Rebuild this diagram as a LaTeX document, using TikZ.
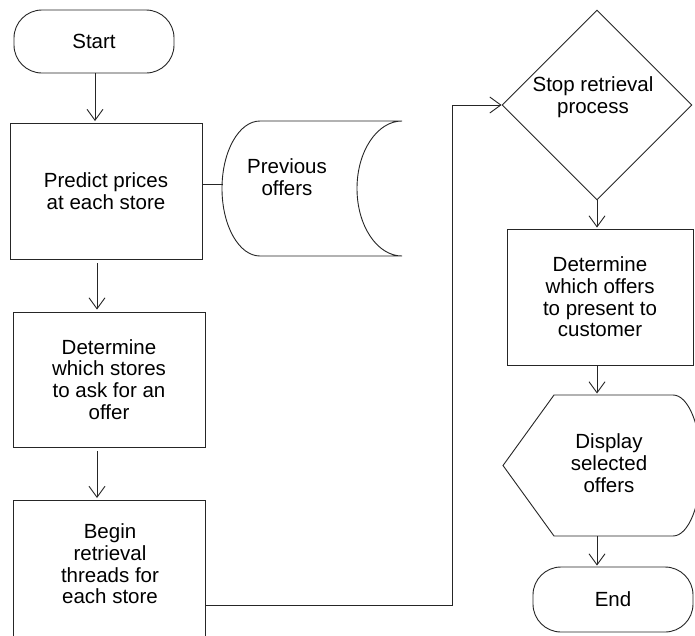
\documentclass[tikz,border=0pt]{standalone}
\usepackage{fontspec}
\setmainfont{Liberation Sans}
\usetikzlibrary{arrows.meta,shapes.geometric}
\begin{document}
\begin{tikzpicture}[x=1pt,y=-1pt,
  ln/.style={draw=black!85, line width=0.9pt},
  arr/.style={ln, -{Straight Barb[length=11pt,width=16pt]}},
  txt/.style={font=\fontsize{20.5}{21.7}\selectfont, align=center, inner sep=0pt},
  procbox/.style={ln, rectangle, inner sep=0pt, txt},
  term/.style={ln, rectangle, rounded corners=28pt, inner sep=0pt, txt, minimum width=160pt},
]
\fill[white] (0,0) rectangle (695,635);
\useasboundingbox (0,0) rectangle (695,635);

% column coordinates
\coordinate (colS) at (95,0);
\coordinate (colA) at (97,0);
\coordinate (colR) at (597,0);

% left column
\node[term, minimum height=63pt] (start) at (94,41.5) {Start};
\node[procbox, minimum width=192pt, minimum height=136pt] (b1) at (106,191) {Predict prices\\at each store};
\node[procbox, minimum width=192pt, minimum height=135pt] (b2) at (109,379.5) {Determine\\which stores\\to ask for an\\offer};
\node[ln, rectangle, inner sep=0pt, minimum width=192pt, minimum height=200pt, anchor=north west] (b3box) at (13,500) {};
\node[txt] (b3) at (110,564) {Begin\\retrieval\\threads for\\each store};

% stored data (previous offers)
\draw[ln] (260,121) -- (402,121)
  .. controls (377.2,121) and (357,151.2) .. (357,188.5)
  .. controls (357,225.8) and (377.2,256) .. (402,256)
  -- (260,256)
  .. controls (239,256) and (222,225.8) .. (222,188.5)
  .. controls (222,151.2) and (239,121) .. cycle;
\node[txt] (prev) at (287,177.5) {Previous\\offers};
\coordinate (prevL) at (223,184);

% right column
\node[ln, diamond, aspect=1, minimum width=190pt, minimum height=190pt, inner sep=0pt] (dia) at (597,105) {};
\node[txt] (diat) at (593,97.5) {Stop retrieval\\process};
\node[procbox, minimum width=186pt, minimum height=136pt] (b4) at (600,297) {Determine\\which offers\\to present to\\customer};

% display shape
\coordinate (dT) at (597,395);
\coordinate (dB) at (597,536);
\draw[ln] (554,395) -- (673,395)
  .. controls (688.5,395) and (701,426) .. (701,465.5)
  .. controls (701,505) and (688.5,536) .. (673,536)
  -- (554,536) -- (503,465.5) -- cycle;
\node[txt] (disp) at (609,463) {Display\\selected\\offers};

\node[term, minimum height=65pt] (end) at (613,599.5) {End};

% connectors
\draw[arr, shorten >=1.5pt] (start.south -| colS) -- (b1.north -| colS);
\draw[ln] (b1.east |- prevL) -- (prevL);
\draw[arr, shorten <=4pt, shorten >=2pt] (b1.south -| colA) -- (b2.north -| colA);
\draw[arr, shorten <=4pt, shorten >=2pt] (b2.south -| colA) -- (b3box.north -| colA);
\coordinate (bend) at (452,605);
\draw[arr] (b3box.east |- bend) -- (bend) |- (dia.west);
\draw[arr, shorten >=1pt] (dia.south) -- (dia.south |- b4.north);
\draw[arr, shorten >=1.5pt] (b4.south -| colR) -- (dT);
\draw[arr, shorten >=1pt] (dB) -- (dB |- end.north);
\end{tikzpicture}
\end{document}
